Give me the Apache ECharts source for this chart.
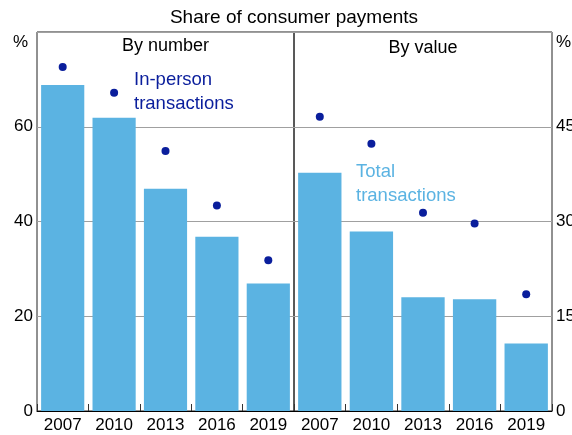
<!DOCTYPE html>
<html>
<head>
<meta charset="utf-8">
<script src="https://cdn.jsdelivr.net/npm/echarts@6/dist/echarts.min.js"></script>
<style>
  html, body { margin: 0; padding: 0; background: #fff; }
  #chart { width: 572px; height: 435px; }
</style>
</head>
<body>
<div id="chart"></div>
<script>
// Share of consumer payments made in cash
const years = ['2007', '2010', '2013', '2016', '2019'];

// By number (left axis, %)
const totalByNumber = [68.8, 61.9, 46.9, 36.8, 26.9];
const inPersonByNumber = [72.6, 67.2, 54.9, 43.4, 31.8];

// By value (right axis, %)
const totalByValue = [37.7, 28.4, 18.0, 17.7, 10.7];
const inPersonByValue = [46.6, 42.3, 31.4, 29.7, 18.5];

const leftTicks = { min: 0, max: 80, interval: 20 };
const rightTicks = { min: 0, max: 60, interval: 15 };

const barColor = '#5bb3e2';
const dotColor = '#0a1e9c';
const font = 'Liberation Sans, Arial, sans-serif';

function initCashChart() {
    const chartDom = document.getElementById('chart');
    const chart = echarts.init(chartDom);

    const gridBase = {
        top: 32, bottom: 24, show: true,
        borderColor: '#222', borderWidth: 1, backgroundColor: 'transparent',
        containLabel: false, outerBoundsMode: 'none'
    };

    const xAxisBase = {
        type: 'category',
        data: years,
        axisLine: { show: true, lineStyle: { color: '#000', width: 1 } },
        axisTick: { show: true, inside: true, length: 7, lineStyle: { color: '#333' } },
        axisLabel: { color: '#000', fontSize: 17, fontFamily: font, margin: 6 },
        splitLine: { show: false }
    };

    const yAxisBase = {
        type: 'value',
        axisLine: { show: false },
        axisTick: { show: false },
        axisLabel: { color: '#000', fontSize: 17, fontFamily: font, margin: 4, showMaxLabel: false },
        splitLine: { show: true, lineStyle: { color: '#a0a0a0', width: 1 } }
    };

    const option = {
        animation: false,
        grid: [
            Object.assign({ left: 37, right: 278 }, gridBase),
            Object.assign({ left: 294, right: 20 }, gridBase)
        ],
        xAxis: [
            Object.assign({ gridIndex: 0 }, xAxisBase),
            Object.assign({ gridIndex: 1 }, xAxisBase)
        ],
        yAxis: [
            Object.assign({ gridIndex: 0, position: 'left' }, yAxisBase, leftTicks),
            Object.assign({ gridIndex: 1, position: 'right' }, yAxisBase, rightTicks)
        ],
        series: [
            {
                type: 'bar', xAxisIndex: 0, yAxisIndex: 0,
                data: totalByNumber, barCategoryGap: '16%',
                itemStyle: { color: barColor }
            },
            {
                type: 'scatter', xAxisIndex: 0, yAxisIndex: 0,
                data: inPersonByNumber, symbolSize: 8,
                itemStyle: { color: dotColor, opacity: 1 }
            },
            {
                type: 'bar', xAxisIndex: 1, yAxisIndex: 1,
                data: totalByValue, barCategoryGap: '16%',
                itemStyle: { color: barColor }
            },
            {
                type: 'scatter', xAxisIndex: 1, yAxisIndex: 1,
                data: inPersonByValue, symbolSize: 8,
                itemStyle: { color: dotColor, opacity: 1 }
            }
        ],
        graphic: [
            { type: 'text', x: 294, y: 8, style: { text: 'Share of consumer payments', font: '19px ' + font, fill: '#000', align: 'center' } },
            { type: 'text', x: 13, y: 34, style: { text: '%', font: '17px ' + font, fill: '#000' } },
            { type: 'text', x: 556, y: 34, style: { text: '%', font: '17px ' + font, fill: '#000' } },
            { type: 'text', x: 165.5, y: 37, style: { text: 'By number', font: '18px ' + font, fill: '#000', align: 'center' } },
            { type: 'text', x: 423, y: 39, style: { text: 'By value', font: '18px ' + font, fill: '#000', align: 'center' } },
            { type: 'text', x: 134, y: 68, style: { text: 'In-person\ntransactions', font: '18.5px ' + font, fill: dotColor, lineHeight: 24 } },
            { type: 'text', x: 356, y: 160, style: { text: 'Total\ntransactions', font: '18.5px ' + font, fill: barColor, lineHeight: 24 } }
        ]
    };

    chart.setOption(option);
    window.addEventListener('resize', chart.resize);
}

document.addEventListener('DOMContentLoaded', initCashChart);
</script>
</body>
</html>
